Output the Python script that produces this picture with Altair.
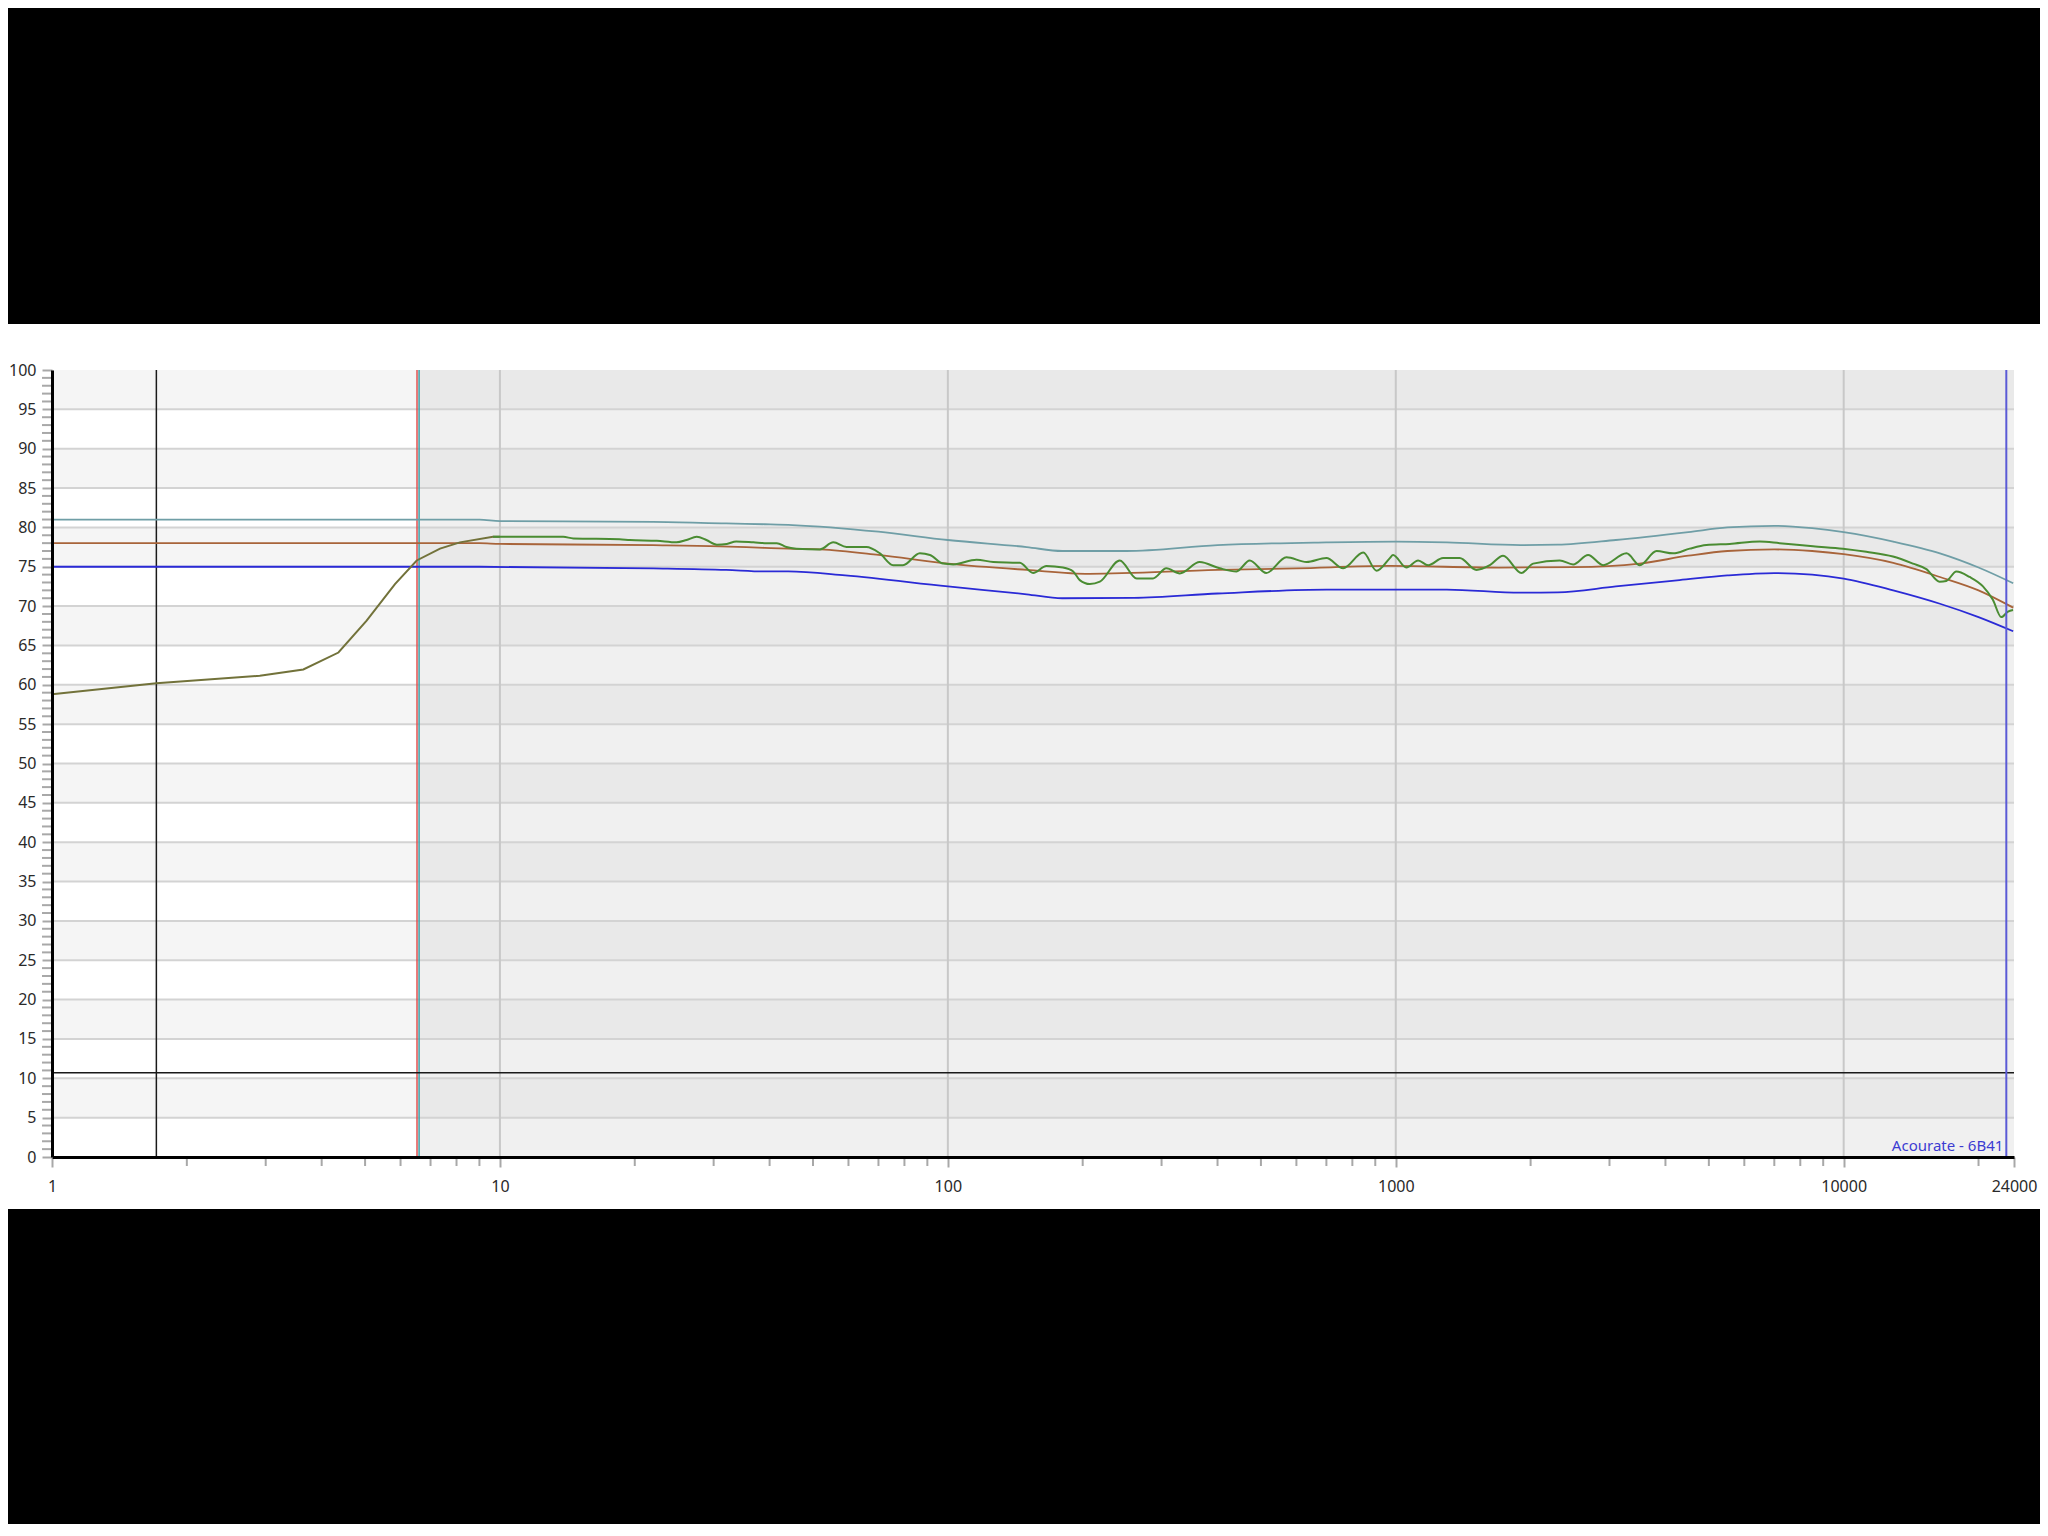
import altair as alt
import pandas as pd

# ---------------- data ----------------
X_LABELS = [1, 10, 100, 1000, 10000, 24000]
Y_LABELS = list(range(0, 101, 5))

# upper tolerance curve (teal)
upper_f = [1, 9, 10, 22, 32, 39, 45, 70, 100, 150, 180, 250, 400, 700, 1000, 1300, 1900, 2300,
           3100, 4500, 5500, 7000, 8500, 10000, 12900, 16400, 20000, 23900]
upper_db = [81.0, 81.0, 80.8, 80.7, 80.5, 80.4, 80.3, 79.45, 78.4, 77.5, 77.0, 77.0, 77.75, 78.1,
            78.2, 78.1, 77.75, 77.8, 78.4, 79.4, 80.0, 80.2, 79.9, 79.4, 78.2, 76.7, 74.9, 72.9]

# target curve (brown)
target_f = [1, 9, 10, 22, 31, 39, 44, 52, 70, 100, 150, 207, 400, 600, 970, 1700, 2500, 3500,
            4500, 5500, 7000, 8500, 10000, 12900, 16400, 20000, 23900]
target_db = [78.0, 78.0, 77.9, 77.75, 77.6, 77.4, 77.3, 77.2, 76.5, 75.4, 74.6, 74.1, 74.6, 74.8,
             75.1, 74.9, 74.95, 75.4, 76.4, 77.0, 77.2, 77.0, 76.6, 75.5, 73.7, 72.0, 69.8]

# lower tolerance curve (blue)
lower_f = [1, 9, 22, 32, 39, 44, 59, 100, 150, 180, 260, 400, 700, 1000, 1300, 1900, 2300, 3100,
           4300, 5500, 7000, 8500, 10000, 12900, 16400, 20000, 23900]
lower_db = [75.0, 75.0, 74.8, 74.6, 74.4, 74.4, 73.9, 72.5, 71.5, 71.0, 71.05, 71.6, 72.1, 72.1,
            72.1, 71.7, 71.75, 72.5, 73.3, 73.9, 74.2, 74.0, 73.5, 72.0, 70.3, 68.6, 66.8]

# low-frequency measured part (olive)
raw_f = [1, 1.71, 2.91, 3.64, 4.36, 5.04, 5.83, 6.52, 7.35, 8.14, 9.65, 10]
raw_db = [58.8, 60.2, 61.15, 61.95, 64.1, 68.15, 72.8, 75.8, 77.3, 78.1, 78.8, 78.8]

# corrected response (green)
meas_f = [9.65, 10, 13.85, 14.58, 18.5, 19.5, 22.4, 24.8, 26.1, 27.5, 28.9, 30.5, 32.1, 33.7,
          36.8, 39.4, 41.5, 43.6, 45.9, 51.8, 55.5, 59.4, 65.8, 70.5, 75.5, 79.4, 86.6, 91.2,
          97.6, 102.8, 115.9, 126.3, 144.8, 155, 166, 180.8, 190.5, 197, 207.5, 218.5, 242,
          264, 287, 307.5, 329.5, 365, 404.6, 441, 472, 514, 570, 632, 700, 763, 846, 906,
          970, 986, 1056, 1122, 1181, 1275, 1389, 1514, 1622, 1736, 1908, 2026, 2323, 2489,
          2688, 2902, 3274, 3507, 3821, 4161, 4532, 4938, 5566, 6494, 7194, 8543, 9958,
          11234, 12882, 14280, 15294, 16375, 16950, 17845, 19100, 20460, 21530, 22480,
          23270, 23880]
meas_db = [78.8, 78.8, 78.8, 78.6, 78.5, 78.4, 78.3, 78.1, 78.4, 78.8, 78.4, 77.8, 77.9, 78.2,
           78.1, 78.0, 78.0, 77.5, 77.3, 77.2, 78.1, 77.5, 77.5, 76.7, 75.2, 75.2, 76.7, 76.5,
           75.4, 75.3, 75.9, 75.6, 75.5, 74.2, 75.1, 74.9, 74.4, 73.3, 72.8, 73.1, 75.8,
           73.5, 73.5, 74.8, 74.15, 75.6, 74.8, 74.4, 75.8, 74.2, 76.2, 75.6, 76.1, 74.8, 76.8, 74.5,
           76.1, 76.5, 74.9, 75.8, 75.2, 76.1, 76.1, 74.6, 75.2, 76.4, 74.2, 75.4, 75.8, 75.3,
           76.5, 75.2, 76.7, 75.2, 77.0, 76.7, 77.3, 77.75, 77.9, 78.2, 78.0, 77.6, 77.3,
           76.9, 76.3, 75.4, 74.7, 73.1, 73.2, 74.4, 73.7, 72.5, 70.8, 68.6,
           69.3, 69.5]

# marker lines
MARK_BLACK_F = [1.71]
MARK_RED_F = [6.53]
MARK_TEAL_F = [6.60]
MARK_BLUE_F = [23070]
MARK_H_DB = [10.7]
REGION_SPLIT = 6.57

LABEL_TEXT = "Acourate - 6B41"

# ---------------- tables ----------------
def df(fs, vs):
    return pd.DataFrame({"f": fs, "v": vs})

bands = []
for k in range(20):
    odd = k % 2 == 1
    bands.append({"f": 1, "f2": REGION_SPLIT, "v": 5 * k, "v2": 5 * k + 5,
                  "c": "#f5f5f5" if odd else "#ffffff"})
    bands.append({"f": REGION_SPLIT, "f2": 24000, "v": 5 * k, "v2": 5 * k + 5,
                  "c": "#e9e9e9" if odd else "#f0f0f0"})
bands = pd.DataFrame(bands)

minor_x = [m * 10 ** e for e in range(0, 5) for m in range(2, 10) if m * 10 ** e < 24000]
minor_y = [v for v in range(0, 101) if v % 5 != 0]

# ---------------- scales / axes ----------------
W, H = 1962, 787
xs = alt.Scale(type="log", domain=[1, 24000], nice=False)
ys = alt.Scale(domain=[0, 100], nice=False, zero=False)
FONT = "Noto Sans"
x_axis = alt.Axis(values=X_LABELS, format="d", title=None, grid=False, tickSize=10, tickWidth=2,
                  tickColor="#a8a8a8", labelPadding=11, labelFontSize=16, labelColor="#2a2a2a",
                  labelFont=FONT, domainColor="#000000", domainWidth=3, zindex=1,
                  labelOverlap=False, labelFlush=False)
y_axis = alt.Axis(values=Y_LABELS, title=None, grid=False, tickSize=10, tickWidth=2,
                  tickColor="#a8a8a8", labelPadding=6, labelFontSize=16, labelColor="#2a2a2a",
                  labelFont=FONT, domainColor="#000000", domainWidth=3, zindex=1,
                  labelOverlap=False)

def X(field="f"):
    return alt.X(f"{field}:Q", scale=xs, axis=x_axis)

def Y(field="v"):
    return alt.Y(f"{field}:Q", scale=ys, axis=y_axis)

# ---------------- layers ----------------
white_band = alt.Chart(pd.DataFrame({"a": [0]})).mark_rect(color="#ffffff").encode(
    x=alt.value(-44), x2=alt.value(W + 26), y=alt.value(-46), y2=alt.value(H + 52))

band_layer = alt.Chart(bands).mark_rect().encode(
    x=X("f"), x2="f2:Q", y=Y("v"), y2="v2:Q", color=alt.Color("c:N", scale=None))

hgrid = alt.Chart(pd.DataFrame({"v": list(range(5, 100, 5))})).mark_rule(
    color="#d3d3d3", strokeWidth=2).encode(y=Y("v"))
vgrid = alt.Chart(pd.DataFrame({"f": [10, 100, 1000, 10000]})).mark_rule(
    color="#c8c8c8", strokeWidth=2).encode(x=X("f"))

def vline(fs, color, width):
    return alt.Chart(pd.DataFrame({"f": fs})).mark_rule(color=color, strokeWidth=width).encode(x=X("f"))

black_v = vline(MARK_BLACK_F, "#1a1a1a", 1.5)
red_v = vline(MARK_RED_F, "#e05050", 1.5)
teal_v = vline(MARK_TEAL_F, "#3fa0a8", 1.5)
blue_v = vline(MARK_BLUE_F, "#5a5ad6", 2)
black_h = alt.Chart(pd.DataFrame({"v": MARK_H_DB})).mark_rule(color="#1a1a1a", strokeWidth=1.5).encode(y=Y("v"))

def curve(fs, vs, color, width, interp="linear"):
    return alt.Chart(df(fs, vs)).mark_line(color=color, strokeWidth=width, interpolate=interp).encode(
        x=X("f"), y=Y("v"), order="f:Q")

upper = curve(upper_f, upper_db, "#6f9ea6", 1.8, "monotone")
lower = curve(lower_f, lower_db, "#2a2ad6", 1.8, "monotone")
target = curve(target_f, target_db, "#a8643a", 1.8, "monotone")
raw = curve(raw_f, raw_db, "#72723a", 2)
meas = curve(meas_f, meas_db, "#4a8c32", 2, "monotone")

minor_x_ticks = alt.Chart(pd.DataFrame({"f": minor_x})).mark_rule(color="#a8a8a8", strokeWidth=2).encode(
    x=X("f"), y=alt.value(H + 1), y2=alt.value(H + 9))
minor_y_ticks = alt.Chart(pd.DataFrame({"v": minor_y})).mark_rule(color="#a8a8a8", strokeWidth=2).encode(
    y=Y("v"), x=alt.value(-10), x2=alt.value(-1))

label = alt.Chart(pd.DataFrame({"f": [MARK_BLUE_F[0]], "v": [0], "t": [LABEL_TEXT]})).mark_text(
    align="right", baseline="bottom", dx=-3, dy=-3, fontSize=15, font=FONT, color="#3c3cd2").encode(
    x=X("f"), y=Y("v"), text="t:N")

chart = alt.layer(
    white_band, band_layer, hgrid, vgrid, black_v, red_v, teal_v, black_h,
    upper, lower, target, raw, meas, blue_v, minor_x_ticks, minor_y_ticks, label
).properties(
    width=W, height=H,
    padding={"left": 44, "top": 362, "right": 26, "bottom": 367},
    autosize=alt.AutoSizeParams(type="none"),
    background="#000000",
).configure_view(stroke="#7a7a7a", strokeWidth=2)

chart.save("out.html", embed_options={"renderer": "svg", "actions": False})
